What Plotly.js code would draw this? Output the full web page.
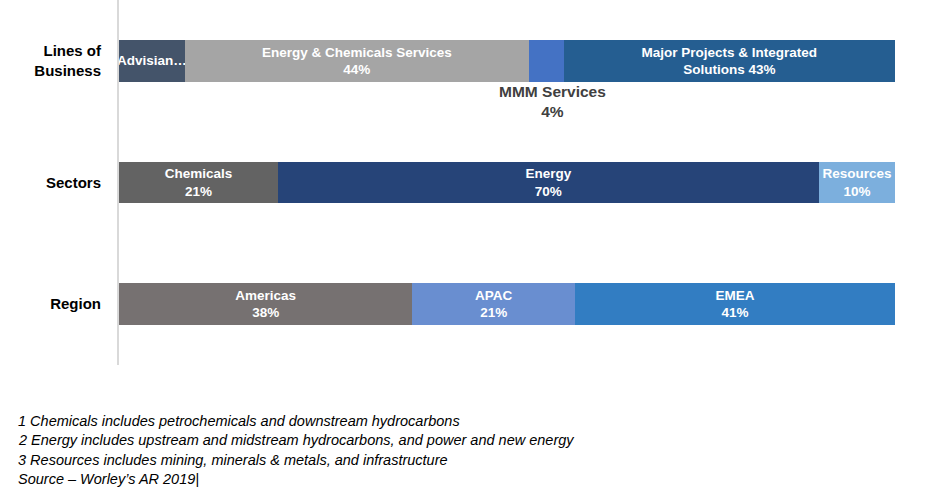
<!DOCTYPE html>
<html>
<head>
<meta charset="utf-8">
<script src="https://cdn.plot.ly/plotly-3.0.1.min.js"></script>
<style>html,body{margin:0;padding:0;background:#fff;}#chart{width:926px;height:496px;}</style>
</head>
<body>
<div id="chart"></div>
<script>
// Categories (bottom to top) and their tick labels
var categories = ['Region', 'Sectors', 'Lines of Business'];
var tickLabels = ['Region', 'Sectors', 'Lines of<br>Business'];

// Lines of Business
var lobNames  = ['Advisian', 'Energy & Chemicals Services', 'MMM Services', 'Major Projects & Integrated Solutions'];
var lobValues = [8.5, 44.3, 4.5, 42.7];
var lobLabels = ['Advisian…', 'Energy & Chemicals Services<br>44%', '', 'Major Projects & Integrated<br>Solutions 43%'];
var lobColors = ['#44546A', '#A5A5A5', '#4472C4', '#255E91'];

// Sectors
var secNames  = ['Chemicals', 'Energy', 'Resources'];
var secValues = [20.5, 69.7, 9.8];
var secLabels = ['Chemicals<br>21%', 'Energy<br>70%', 'Resources<br>10%'];
var secColors = ['#636363', '#264478', '#7CAFDD'];

// Region
var regNames  = ['Americas', 'APAC', 'EMEA'];
var regValues = [37.8, 21.0, 41.2];
var regLabels = ['Americas<br>38%', 'APAC<br>21%', 'EMEA<br>41%'];
var regColors = ['#767171', '#698ED0', '#327DC2'];

// Outside label for the small MMM segment
var mmmLabel = 'MMM Services<br>4%';

// Footnotes
var footnotes = [
  '1 Chemicals includes petrochemicals and downstream hydrocarbons',
  '2 Energy includes upstream and midstream hydrocarbons, and power and new energy',
  '3 Resources includes mining, minerals &amp; metals, and infrastructure',
  'Source – Worley’s AR 2019|'
];

var FONT = 'Liberation Sans, Arial, sans-serif';
var traces = [];
function addRow(cat, names, values, labels, colors) {
  for (var i = 0; i < names.length; i++) {
    traces.push({
      type: 'bar', orientation: 'h',
      name: names[i], y: [cat], x: [values[i]],
      marker: {color: colors[i], line: {width: 0}},
      text: [labels[i] ? '<b>' + labels[i] + '</b>' : ''],
      textposition: 'inside', insidetextanchor: 'middle', textangle: 0,
      constraintext: 'none', cliponaxis: false,
      insidetextfont: {color: '#FFFFFF', size: 13.5, family: FONT},
      hoverinfo: 'name+x', showlegend: false
    });
  }
}
addRow(categories[2], lobNames, lobValues, lobLabels, lobColors);
addRow(categories[1], secNames, secValues, secLabels, secColors);
addRow(categories[0], regNames, regValues, regLabels, regColors);

var mmmX = lobValues[0] + lobValues[1] + lobValues[2] / 2;
var annotations = [{
  x: mmmX, y: categories[2], xref: 'x', yref: 'y',
  text: '<b>' + mmmLabel + '</b>', showarrow: false,
  yanchor: 'top', xanchor: 'center', yshift: -20, xshift: 6,
  font: {size: 15.5, color: '#404040', family: FONT}
}];
var footY = [421, 440, 460, 479];
for (var k = 0; k < footnotes.length; k++) {
  annotations.push({
    xref: 'paper', yref: 'paper',
    x: (16 - 119) / 776, y: (365 - footY[k]) / 365,
    xanchor: 'left', yanchor: 'middle', showarrow: false,
    text: '<i>' + footnotes[k] + '</i>',
    font: {size: 14.5, color: '#000000', family: FONT}
  });
}

var layout = {
  width: 926, height: 496,
  margin: {l: 119, r: 31, t: 0, b: 131, pad: 0},
  paper_bgcolor: '#FFFFFF', plot_bgcolor: '#FFFFFF',
  barmode: 'stack', bargap: 0.655,
  showlegend: false,
  xaxis: {range: [0, 100], visible: false, fixedrange: true},
  yaxis: {
    type: 'category', categoryorder: 'array', categoryarray: categories,
    tickvals: categories, ticktext: tickLabels.map(function (t) { return '<b>' + t + '</b>'; }),
    range: [-0.5, 2.5], showline: true, linecolor: '#D9D9D9', linewidth: 2,
    ticks: '', showgrid: false, zeroline: false, ticklabelstandoff: 13,
    tickfont: {size: 15, color: '#000000', family: FONT}, fixedrange: true
  },
  annotations: annotations,
  font: {family: FONT}
};

Plotly.newPlot('chart', traces, layout, {displayModeBar: false, staticPlot: true});
</script>
</body>
</html>
